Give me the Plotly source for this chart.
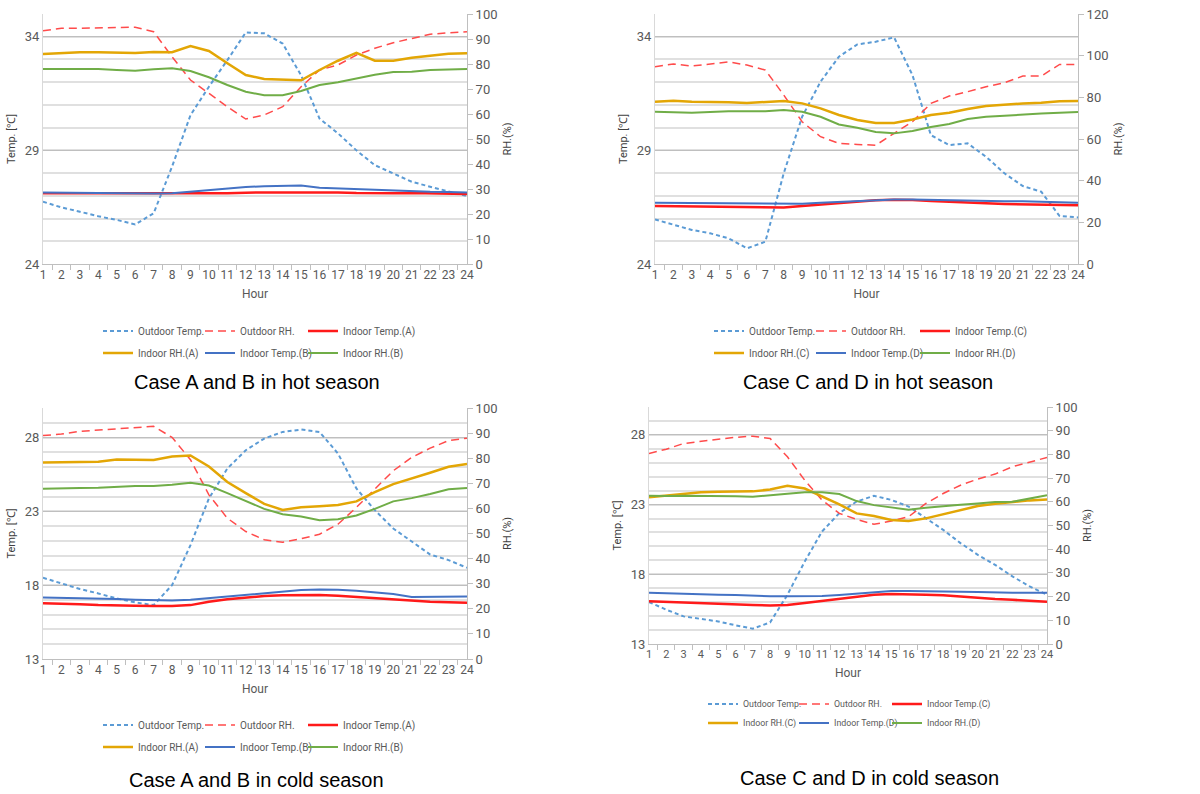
import plotly.graph_objects as go

hours = [str(h) for h in range(1, 25)]

# ---------- Case A and B, hot season ----------
hotAB_out_temp = [26.74, 26.49, 26.30, 26.10, 25.94, 25.74, 26.23, 28.28, 30.55, 31.80, 32.97, 34.19,
                  34.15, 33.70, 32.30, 30.40, 29.75, 29.00, 28.35, 27.99, 27.62, 27.40, 27.18, 26.99]
hotAB_out_rh = [93.3, 94.3, 94.3, 94.5, 94.7, 94.7, 92.9, 82.9, 73.6, 68.3, 62.9, 58.0,
                59.6, 62.9, 70.9, 77.6, 79.6, 83.6, 86.3, 88.5, 90.3, 91.9, 92.5, 92.9]
hotAB_in_temp_A = [27.11, 27.11, 27.11, 27.11, 27.08, 27.08, 27.08, 27.08, 27.10, 27.10, 27.11, 27.14,
                   27.14, 27.14, 27.17, 27.17, 27.15, 27.12, 27.10, 27.11, 27.12, 27.11, 27.10, 27.08]
hotAB_in_rh_A = [84.0, 84.5, 84.7, 84.7, 84.7, 84.4, 84.8, 84.7, 87.2, 85.2, 80.3, 75.6,
                 74.0, 73.7, 73.5, 77.6, 81.3, 84.5, 81.3, 81.3, 82.5, 83.3, 84.1, 84.3]
hotAB_in_temp_B = [27.15, 27.14, 27.12, 27.12, 27.10, 27.10, 27.10, 27.11, 27.18, 27.27, 27.31, 27.39,
                   27.42, 27.45, 27.45, 27.36, 27.33, 27.30, 27.24, 27.24, 27.21, 27.18, 27.17, 27.15]
hotAB_in_rh_B = [78.0, 78.0, 78.0, 78.0, 77.6, 77.3, 77.9, 78.3, 77.2, 74.7, 71.6, 68.9,
                 67.5, 67.5, 69.2, 71.6, 72.7, 74.3, 75.7, 76.8, 76.9, 77.6, 77.9, 78.0]

# ---------- Case C and D, hot season ----------
hotCD_out_temp = [25.96, 25.72, 25.50, 25.35, 25.13, 24.69, 24.98, 27.99, 30.48, 32.02, 33.12, 33.66,
                  33.78, 33.97, 32.31, 29.67, 29.23, 29.31, 28.72, 27.99, 27.43, 27.18, 26.11, 26.05]
hotCD_out_rh = [94.7, 96.0, 95.0, 96.0, 97.0, 95.5, 93.1, 81.1, 68.3, 61.1, 57.9, 57.4,
                57.0, 62.7, 68.3, 77.1, 80.6, 82.7, 85.1, 87.0, 90.2, 90.2, 95.8, 95.8]
hotCD_in_temp_C = [26.55, 26.54, 26.52, 26.52, 26.51, 26.49, 26.49, 26.49, 26.55, 26.62, 26.67, 26.73,
                   26.80, 26.83, 26.82, 26.77, 26.73, 26.68, 26.67, 26.64, 26.62, 26.62, 26.61, 26.58]
hotCD_in_rh_C = [77.9, 78.4, 77.9, 77.9, 77.6, 77.3, 77.9, 78.2, 77.1, 74.7, 71.5, 69.1,
                 67.7, 67.7, 69.4, 71.5, 72.6, 74.4, 75.8, 76.6, 77.1, 77.4, 78.1, 78.2]
hotCD_in_temp_D = [26.70, 26.69, 26.69, 26.69, 26.66, 26.66, 26.66, 26.63, 26.65, 26.69, 26.73, 26.77,
                   26.80, 26.84, 26.84, 26.82, 26.80, 26.77, 26.76, 26.76, 26.76, 26.74, 26.73, 26.70]
hotCD_in_rh_D = [73.1, 72.9, 72.6, 72.9, 73.3, 73.3, 73.3, 73.9, 73.1, 70.7, 67.0, 65.4,
                 63.4, 62.7, 63.8, 65.8, 67.2, 69.6, 70.7, 71.2, 71.8, 72.2, 72.6, 73.0]

# ---------- Case A and B, cold season ----------
coldAB_out_temp = [18.50, 18.12, 17.74, 17.44, 17.10, 16.83, 16.65, 18.00, 20.71, 23.87, 25.90, 27.14,
                   27.93, 28.38, 28.54, 28.38, 26.92, 24.55, 23.08, 21.84, 20.94, 20.08, 19.70, 19.18]
coldAB_out_rh = [89.0, 89.6, 90.7, 91.2, 91.8, 92.4, 92.7, 88.3, 79.4, 65.4, 56.1, 50.8,
                 47.5, 46.5, 47.9, 49.7, 53.7, 60.4, 67.8, 75.0, 80.3, 84.0, 87.0, 88.0]
coldAB_in_temp_A = [16.77, 16.75, 16.70, 16.65, 16.61, 16.61, 16.59, 16.59, 16.65, 16.88, 17.04, 17.17,
                    17.26, 17.31, 17.33, 17.33, 17.28, 17.19, 17.10, 17.04, 16.92, 16.88, 16.84, 16.81]
coldAB_in_rh_A = [78.3, 78.4, 78.4, 78.6, 79.5, 79.5, 79.3, 80.7, 81.1, 76.7, 70.5, 66.1,
                  61.8, 59.4, 60.5, 60.9, 61.4, 62.8, 66.5, 69.7, 71.8, 74.2, 76.6, 77.7]
coldAB_in_temp_B = [17.17, 17.15, 17.15, 17.11, 17.06, 17.02, 16.99, 16.97, 17.02, 17.13, 17.26, 17.37,
                    17.49, 17.60, 17.67, 17.71, 17.69, 17.62, 17.51, 17.40, 17.20, 17.22, 17.26, 17.24]
coldAB_in_rh_B = [67.8, 68.1, 68.1, 68.2, 68.6, 68.9, 68.9, 69.4, 70.2, 69.1, 66.1, 62.8,
                  59.8, 57.7, 56.8, 55.3, 55.7, 57.2, 59.8, 62.8, 64.1, 65.7, 67.6, 68.1]

# ---------- Case C and D, cold season ----------
coldCD_out_temp = [16.01, 15.46, 14.98, 14.82, 14.62, 14.34, 14.10, 14.55, 16.53, 18.92, 21.07, 22.39,
                   23.22, 23.63, 23.34, 22.86, 22.03, 21.19, 20.24, 19.40, 18.68, 17.85, 17.13, 16.53]
coldCD_out_rh = [80.4, 82.2, 84.6, 85.6, 86.4, 87.2, 87.7, 86.7, 79.0, 69.1, 60.7, 55.1,
                 52.6, 50.5, 51.9, 53.7, 59.3, 63.5, 67.0, 69.6, 71.7, 74.8, 76.9, 78.7]
coldCD_in_temp_C = [16.06, 16.01, 15.96, 15.91, 15.89, 15.84, 15.79, 15.77, 15.79, 15.94, 16.08, 16.25,
                    16.41, 16.53, 16.58, 16.58, 16.53, 16.49, 16.39, 16.29, 16.22, 16.17, 16.10, 16.03]
coldCD_in_rh_C = [61.9, 62.6, 63.3, 64.0, 64.2, 64.4, 64.4, 65.2, 66.8, 65.6, 62.4, 58.9,
                  55.1, 54.0, 52.3, 51.9, 53.0, 54.7, 56.5, 58.2, 59.2, 60.0, 60.6, 61.0]
coldCD_in_temp_D = [16.68, 16.63, 16.58, 16.53, 16.53, 16.51, 16.46, 16.42, 16.42, 16.42, 16.44, 16.51,
                    16.61, 16.73, 16.80, 16.80, 16.80, 16.80, 16.75, 16.73, 16.68, 16.68, 16.68, 16.68]
coldCD_in_rh_D = [62.6, 62.4, 62.6, 62.6, 62.4, 62.3, 62.1, 62.6, 63.4, 64.0, 64.0, 63.3,
                  60.3, 58.6, 57.5, 56.7, 57.5, 58.3, 58.8, 59.3, 59.9, 60.0, 61.4, 62.8]

legend_names_AB = ["Outdoor Temp.", "Outdoor RH.", "Indoor Temp.(A)",
                   "Indoor RH.(A)", "Indoor Temp.(B)", "Indoor RH.(B)"]
legend_names_CD = ["Outdoor Temp.", "Outdoor RH.", "Indoor Temp.(C)",
                   "Indoor RH.(C)", "Indoor Temp.(D)", "Indoor RH.(D)"]
captions = ["Case A and B in hot season", "Case C and D in hot season",
            "Case A and B in cold season", "Case C and D in cold season"]

W, H = 1200, 794
def fx(px): return px / W
def fy(py): return 1 - py / H

panels = [
    dict(data=[hotAB_out_temp, hotAB_out_rh, hotAB_in_temp_A, hotAB_in_rh_A, hotAB_in_temp_B, hotAB_in_rh_B],
         names=legend_names_AB, xd=(43, 467), yd=(14, 264), trange=(24, 35), tticks=[24, 29, 34],
         rhmax=100, rhstep=10, leg_x=[98, 200, 303], leg_y=[331, 353], cap=(257, 382), fs=10, xfs=12),
    dict(data=[hotCD_out_temp, hotCD_out_rh, hotCD_in_temp_C, hotCD_in_rh_C, hotCD_in_temp_D, hotCD_in_rh_D],
         names=legend_names_CD, xd=(655, 1078), yd=(14, 264), trange=(24, 35), tticks=[24, 29, 34],
         rhmax=120, rhstep=20, leg_x=[709, 811, 915], leg_y=[331, 353], cap=(868, 382), fs=10, xfs=12),
    dict(data=[coldAB_out_temp, coldAB_out_rh, coldAB_in_temp_A, coldAB_in_rh_A, coldAB_in_temp_B, coldAB_in_rh_B],
         names=legend_names_AB, xd=(43, 467), yd=(408, 659), trange=(13, 30), tticks=[13, 18, 23, 28],
         rhmax=100, rhstep=10, leg_x=[98, 200, 303], leg_y=[725, 747], cap=(256, 780), fs=10, xfs=12),
    dict(data=[coldCD_out_temp, coldCD_out_rh, coldCD_in_temp_C, coldCD_in_rh_C, coldCD_in_temp_D, coldCD_in_rh_D],
         names=legend_names_CD, xd=(649, 1047), yd=(407, 644), trange=(13, 30), tticks=[13, 18, 23, 28],
         rhmax=100, rhstep=10, leg_x=[703, 794, 887], leg_y=[704, 723], cap=(869, 778), fs=8.8, xfs=11),
]

styles = [
    dict(color="#5B9BD5", width=2, dash="4px,3px"),
    dict(color="#FF4B4B", width=1.5, dash="8px,5px"),
    dict(color="#FF1A1A", width=2.5, dash="solid"),
    dict(color="#E3A605", width=2.5, dash="solid"),
    dict(color="#4472C4", width=2, dash="solid"),
    dict(color="#70AD47", width=2, dash="solid"),
]
on_rh = [False, True, False, True, False, True]

GREY_TXT = "#595959"
FONT = "Roboto"

fig = go.Figure()
layout = dict(template="none", width=W, height=H, margin=dict(l=0, r=0, t=0, b=0, autoexpand=False),
              paper_bgcolor="white", plot_bgcolor="rgba(0,0,0,0)", annotations=[], shapes=[],
              hovermode=False, showlegend=True)

leg_count = 0
for i, p in enumerate(panels):
    k = i + 1
    xa = "x" if k == 1 else f"x{k}"
    yt = "y" if k == 1 else f"y{2 * k - 1}"
    yr = f"y{2 * k}"
    for j in range(6):
        leg_count += 1
        lk = "legend" if leg_count == 1 else f"legend{leg_count}"
        fig.add_trace(go.Scatter(
            x=hours, y=p["data"][j], name=p["names"][j], mode="lines", showlegend=True,
            line=dict(color=styles[j]["color"], width=styles[j]["width"], dash=styles[j]["dash"]),
            xaxis=xa, yaxis=yr if on_rh[j] else yt, legend=lk, hoverinfo="skip"))
        layout[lk] = dict(
            orientation="h", x=fx(p["leg_x"][j % 3]), xanchor="left",
            y=fy(p["leg_y"][j // 3]), yanchor="middle",
            bgcolor="rgba(0,0,0,0)", borderwidth=0,
            font=dict(family=FONT, size=p["fs"], color=GREY_TXT), itemwidth=30)

    xkey = "xaxis" if k == 1 else f"xaxis{k}"
    ytkey = "yaxis" if k == 1 else f"yaxis{2 * k - 1}"
    yrkey = f"yaxis{2 * k}"
    layout[xkey] = dict(
        domain=[fx(p["xd"][0]), fx(p["xd"][1])], anchor=yt, type="category", automargin=False,
        tickson="boundaries", ticks="outside", ticklen=5, tickcolor="#BFBFBF", tickangle=0,
        showline=True, linecolor="#BFBFBF", linewidth=1, showgrid=False, zeroline=False,
        tickfont=dict(family=FONT, size=p["xfs"], color=GREY_TXT),
        title=dict(text="Hour", font=dict(family=FONT, size=12, color=GREY_TXT), standoff=8),
        fixedrange=True)
    layout[ytkey] = dict(
        domain=[fy(p["yd"][1]), fy(p["yd"][0])], anchor=xa, range=list(p["trange"]), automargin=False,
        tickvals=p["tticks"], ticks="", showline=True, linecolor="#D9D9D9",
        showgrid=True, gridcolor="#BFBFBF", gridwidth=1, zeroline=False,
        minor=dict(dtick=1, tick0=p["trange"][0], showgrid=True, gridcolor="#E0E0E0", gridwidth=1.5),
        tickfont=dict(family=FONT, size=13, color=GREY_TXT),
        title=dict(text="Temp. [℃]", font=dict(family=FONT, size=11, color="#404040"), standoff=6),
        fixedrange=True)
    layout[yrkey] = dict(
        overlaying=yt, anchor=xa, side="right", range=[0, p["rhmax"]], dtick=p["rhstep"], tick0=0,
        ticks="outside", ticklen=5, tickcolor="#BFBFBF", showline=True, linecolor="#BFBFBF",
        showgrid=False, zeroline=False, automargin=False,
        tickfont=dict(family=FONT, size=13, color=GREY_TXT),
        title=dict(text="RH.(%)", font=dict(family=FONT, size=11, color="#404040"), standoff=6),
        fixedrange=True)

    layout["annotations"].append(dict(
        text=captions[i], x=fx(p["cap"][0]), y=fy(p["cap"][1]), xref="paper", yref="paper",
        xanchor="center", yanchor="middle", showarrow=False,
        font=dict(family="Liberation Sans, Arial", size=20, color="black")))

fig.update_layout(**layout)
fig.write_html("out.html", config={"displayModeBar": False},
               post_script="document.body.style.margin='0';")
